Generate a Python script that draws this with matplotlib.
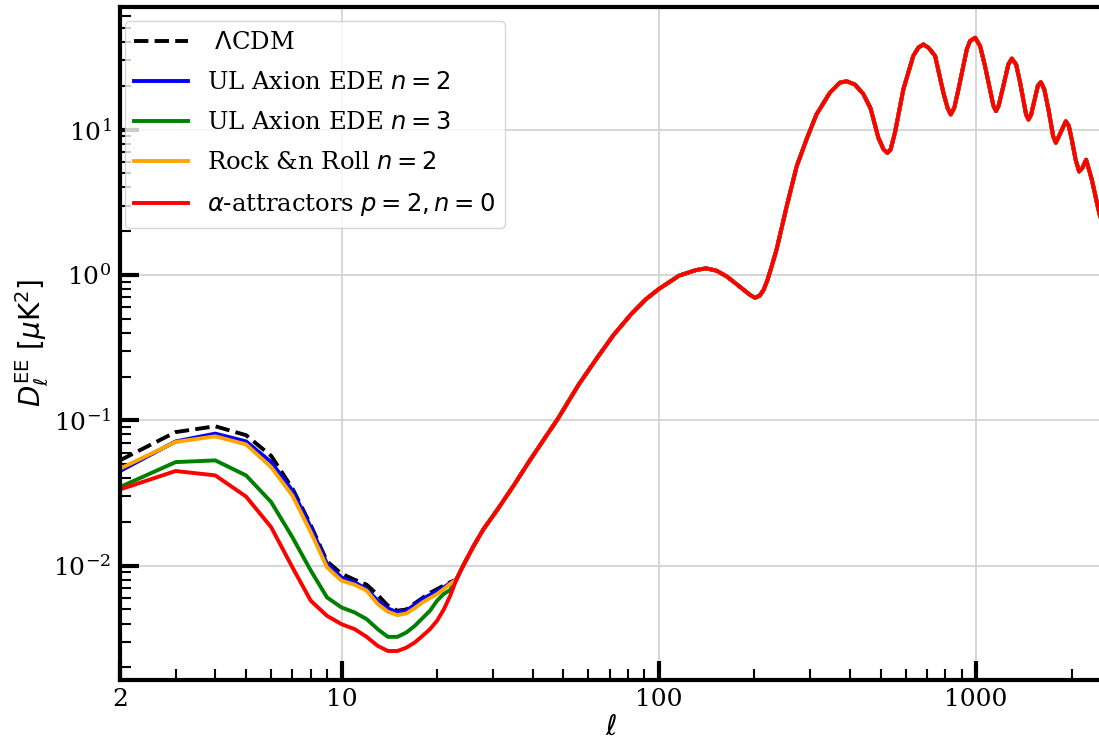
import matplotlib
matplotlib.use("Agg")
import matplotlib.pyplot as plt
import numpy as np

plt.rcParams['font.family'] = 'serif'
plt.rcParams['font.serif'] = ['DejaVu Serif']
plt.rcParams['mathtext.fontset'] = 'dejavusans'

# low multipoles, one value per integer ell
ell_low = [2, 3, 4, 5, 6, 7, 8, 9, 10, 11, 12, 13, 14, 15, 16, 17, 18, 19, 20, 21, 22]
lcdm_low = [0.053, 0.083, 0.091, 0.079, 0.057, 0.034, 0.019, 0.0107, 0.0088, 0.0080, 0.0074,
            0.0063, 0.0053, 0.0049, 0.0050, 0.0055, 0.0060, 0.0065, 0.0069, 0.0073, 0.0077]
ul2_low = [0.0447, 0.0716, 0.081, 0.0716, 0.0516, 0.0329, 0.0184, 0.0103, 0.0083, 0.00768, 0.0069,
           0.00574, 0.00508, 0.00479, 0.0049, 0.00539, 0.0059, 0.0063, 0.0067, 0.0071, 0.0076]
ul3_low = [0.0347, 0.0516, 0.0530, 0.0418, 0.0274, 0.0157, 0.00925, 0.00605, 0.00516, 0.00477, 0.00429,
           0.00366, 0.00324, 0.00324, 0.00347, 0.00385, 0.00436, 0.00490, 0.00574, 0.0064, 0.0068]
rnr_low = [0.0464, 0.0710, 0.0776, 0.0683, 0.0476, 0.0304, 0.0170, 0.00975, 0.00789, 0.00740, 0.00673,
           0.00545, 0.00482, 0.00457, 0.00469, 0.00511, 0.00559, 0.00599, 0.00638, 0.00691, 0.0075]
alpha_low = [0.0334, 0.0448, 0.0418, 0.0299, 0.0184, 0.00975, 0.00574, 0.00452, 0.00396, 0.00366, 0.00324,
             0.00281, 0.00259, 0.00259, 0.00273, 0.00296, 0.00329, 0.00366, 0.00418, 0.00500, 0.0062]

# above ell~23 all models sit on the same spectrum
ell_high = [23, 24, 26, 28, 31, 35, 39, 44, 48, 56, 64, 72, 82, 91, 100, 116, 131, 141, 152, 164,
            180, 194, 201, 208, 214, 220, 227, 235, 253, 272, 292, 314, 346, 372, 391, 415, 441, 465,
            492, 511, 525, 538, 555, 590, 634, 658, 682, 708, 743, 789, 813, 832, 854, 880, 935, 957,
            994, 1030, 1067, 1135, 1156, 1177, 1219, 1264, 1296, 1338, 1377, 1438, 1463, 1492, 1567,
            1601, 1641, 1692, 1750, 1784, 1850, 1918, 1960, 2004, 2060, 2113, 2160, 2223, 2317, 2431,
            2500]
dl_high = [0.0080, 0.0097, 0.0135, 0.0178, 0.0243, 0.036, 0.052, 0.077, 0.102, 0.177, 0.27, 0.386,
           0.54, 0.68, 0.80, 0.99, 1.08, 1.11, 1.07, 0.974, 0.83, 0.728, 0.697, 0.72, 0.79, 0.92, 1.15,
           1.49, 2.96, 5.58, 8.53, 12.7, 17.9, 21.0, 21.5, 20.4, 17.6, 14.0, 8.8, 7.3, 6.9, 7.3, 9.5,
           18.9, 32.1, 36.6, 38.5, 36.6, 32.1, 17.9, 14.1, 12.7, 14.1, 18.9, 35.6, 40.6, 42.8, 37.5,
           27.4, 14.5, 13.4, 14.5, 19.9, 28.0, 30.8, 28.0, 21.0, 12.7, 11.7, 12.7, 20.1, 21.2, 18.9,
           13.7, 9.0, 8.1, 9.6, 11.4, 10.6, 8.5, 6.2, 5.15, 5.4, 6.2, 4.52, 2.81, 2.2]

labels = [r' $\Lambda$CDM', r'UL Axion EDE $n=2$', r'UL Axion EDE $n=3$',
          r'Rock &n Roll $n=2$', r'$\alpha$-attractors $p=2, n=0$']
colors = ['black', 'blue', 'green', 'orange', 'red']
styles = ['--', '-', '-', '-', '-']
lows = [lcdm_low, ul2_low, ul3_low, rnr_low, alpha_low]

fig = plt.figure(figsize=(10.99, 7.43), dpi=100)
ax = fig.add_axes([0.109, 0.085, 0.894, 0.906])

for low, c, ls, lab in zip(lows, colors, styles, labels):
    ell = np.concatenate([ell_low, ell_high])
    dl = np.concatenate([low, dl_high])
    ax.plot(ell, dl, color=c, ls=ls, lw=2.8, label=lab)

ax.set_xscale('log')
ax.set_yscale('log')
ax.set_xlim(2, 2500)
ax.set_ylim(1.64e-3, 70)
ax.set_xticks([2, 10, 100, 1000])
ax.set_xticklabels(['2', '10', '100', '1000'])

ax.grid(True, which='major', color='#d0d0d0', lw=1.2)
for s in ax.spines.values():
    s.set_linewidth(3)
ax.tick_params(which='major', direction='in', length=14, width=3, labelsize=18, pad=6)
ax.tick_params(which='minor', direction='in', length=8, width=1.5)

ax.set_xlabel(r'$\ell$', fontsize=20, labelpad=2)
ax.set_ylabel(r'$D_\ell^{\mathrm{EE}}\ [\mu\mathrm{K}^2]$', fontsize=20, labelpad=2)

ax.legend(loc='upper left', bbox_to_anchor=(0.005, 0.978), borderaxespad=0, fontsize=17.5,
          handlelength=2.2, labelspacing=0.7, handletextpad=0.8)

fig.savefig('out.png', dpi=100)
